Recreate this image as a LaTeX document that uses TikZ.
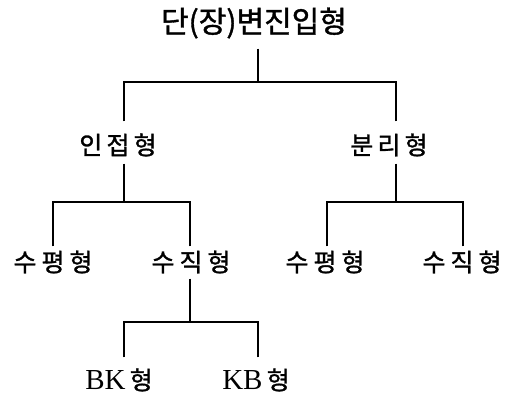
\documentclass[tikz,border=0pt]{standalone}
\usepackage{fontspec}
\setmainfont{Liberation Serif}
\newfontfamily\kr[FakeBold=1.2]{Noto Sans CJK KR}
\newcommand\gapk{\hspace{5pt}}
\begin{document}
\begin{tikzpicture}[x=1pt,y=-1pt,
  lbl/.style={inner sep=0pt, font=\kr\fontsize{25}{25}\selectfont},
  big/.style={inner sep=0pt, font=\kr\fontsize{30}{30}\selectfont},
  conn/.style={line width=1.3pt}]
\useasboundingbox (0,0) rectangle (508,400);
\node[big] (root) at (254,23) {단(장)변진입형};
\node[lbl] (a) at (118,145) {인\,접\,형};
\node[lbl] (b) at (389,145) {분\,리\,형};
\node[lbl] (a1) at (53,262) {수\gapk 평\gapk 형};
\node[lbl] (a2) at (191,262) {수\gapk 직\gapk 형};
\node[lbl] (b1) at (325,262) {수\gapk 평\gapk 형};
\node[lbl] (b2) at (462,262) {수\gapk 직\gapk 형};
\node[lbl] (c1) at (119,380) {{\fontsize{29}{29}\rmfamily BK}\,형};
\node[lbl] (c2) at (256,380) {{\fontsize{29}{29}\rmfamily KB}\,형};
% junctions
\coordinate (j0) at (258,82);
\coordinate (j1) at (124,202);
\coordinate (j2) at (396,202);
\coordinate (j3) at (190,322);
\draw[conn] ([yshift=-10pt]root.south -| j0) -- (j0);
\draw[conn] ([yshift=12pt]a.north -| j1) |- (j0);
\draw[conn] ([yshift=12pt]b.north -| j2) |- (j0);
\draw[conn] ([yshift=-7pt]a.south -| j1) -- (j1);
\draw[conn] ([yshift=-7pt]b.south -| j2) -- (j2);
\draw[conn] ([yshift=4pt]a1.north) |- (j1);
\draw[conn] ([yshift=4pt]a2.north -| j3) |- (j1);
\draw[conn] ([yshift=4pt]b1.north -| 327,0) |- (j2);
\draw[conn] ([yshift=4pt]b2.north -| 463,0) |- (j2);
\draw[conn] ([yshift=-5pt]a2.south -| j3) -- (j3);
\draw[conn] ([yshift=11pt]c1.north -| 124,0) |- (j3);
\draw[conn] ([yshift=11pt]c2.north -| 258,0) |- (j3);
\end{tikzpicture}
\end{document}
